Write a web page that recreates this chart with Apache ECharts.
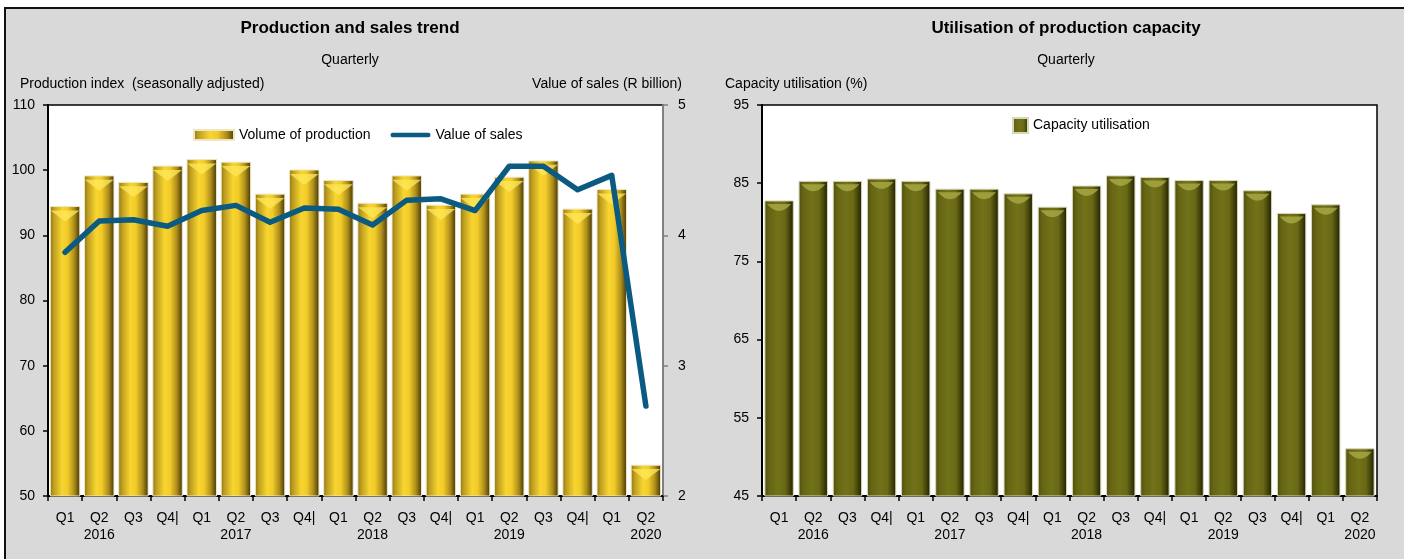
<!DOCTYPE html>
<html><head><meta charset="utf-8">
<script src="https://cdn.jsdelivr.net/npm/echarts@6/dist/echarts.min.js"></script>
<style>
html,body{margin:0;padding:0;background:#fff;}
#bg{position:absolute;left:4px;top:7px;width:1420px;height:560px;background:#d9d9d9;border-top:2px solid #111;border-left:2px solid #111;}
#c{position:absolute;left:0;top:0;width:1404px;height:559px;}
</style>
</head><body><div id="bg"></div><div id="c"></div>
<script>
// ---- data ----
const categories = ['Q1','Q2\n2016','Q3','Q4|','Q1','Q2\n2017','Q3','Q4|','Q1','Q2\n2018','Q3','Q4|','Q1','Q2\n2019','Q3','Q4|','Q1','Q2\n2020'];
const productionIndex = [94.5,99.2,98.2,100.7,101.7,101.3,96.4,100.1,98.5,95.0,99.2,94.7,96.4,99.0,101.5,94.1,97.1,54.8];
const salesValue = [3.87,4.11,4.12,4.07,4.19,4.23,4.10,4.21,4.20,4.08,4.27,4.28,4.19,4.53,4.53,4.35,4.46,2.69];
const capacityUtil = [82.8,85.3,85.3,85.6,85.3,84.3,84.3,83.7,82.0,84.7,86.0,85.8,85.4,85.4,84.1,81.2,82.3,51.1];
const prodAxis = {min:50, max:110, interval:10};
const salesAxis = {min:2, max:5, interval:1};
const capAxis = {min:45, max:95, interval:10};

const FONT = '"Liberation Sans", Arial, sans-serif';
const gold = new echarts.graphic.LinearGradient(0,0,1,0,[
  {offset:0,color:'#8a7215'},{offset:0.12,color:'#bc9c1f'},{offset:0.4,color:'#f8d530'},
  {offset:0.58,color:'#f2cb29'},{offset:0.8,color:'#ad8e1b'},{offset:0.93,color:'#66520d'},{offset:1,color:'#3a2e08'}]);
const olive = new echarts.graphic.LinearGradient(0,0,1,0,[
  {offset:0,color:'#4e4e0c'},{offset:0.15,color:'#646414'},{offset:0.45,color:'#727219'},
  {offset:0.7,color:'#696916'},{offset:0.88,color:'#3e3e0a'},{offset:1,color:'#1c1c02'}]);

const lbl = {fontFamily:FONT, fontSize:14, color:'#000'};
function xAxisCfg(gi){
  return {type:'category', gridIndex:gi, data:categories,
    axisLine:{lineStyle:{color:'#000',width:2}},
    axisTick:{show:true,length:5,lineStyle:{color:'#000',width:1.5}},
    axisLabel:Object.assign({margin:14,lineHeight:17,interval:0},lbl)};
}
function yAxisCfg(gi,r,pos,color){
  return {type:'value', gridIndex:gi, position:pos, min:r.min, max:r.max, interval:r.interval,
    splitLine:{show:false},
    axisLine:{show:true,lineStyle:{color:color,width:2}},
    axisTick:{show:true,length:5,lineStyle:{color:color,width:1.5}},
    axisLabel:Object.assign({margin:13},lbl)};
}
const chart = echarts.init(document.getElementById('c'), null, {renderer:'canvas'});
chart.setOption({
  backgroundColor:'transparent',
  animation:false,
  textStyle:{fontFamily:FONT},
  grid:[
    {left:48, top:105, width:615, height:391, show:true, backgroundColor:'#fff', borderColor:'#000', borderWidth:1.5},
    {left:762, top:105, width:615, height:391, show:true, backgroundColor:'#fff', borderColor:'#000', borderWidth:1.5}
  ],
  xAxis:[xAxisCfg(0), xAxisCfg(1)],
  yAxis:[
    yAxisCfg(0,prodAxis,'left','#000'),
    Object.assign(yAxisCfg(0,salesAxis,'right','#808080'),{axisLabel:Object.assign({margin:15},lbl)}),
    yAxisCfg(1,capAxis,'left','#000')
  ],
  legend:[
    {left:193, top:128, padding:0, itemWidth:40, itemHeight:10, itemGap:20, textStyle:lbl,
     data:[{name:'Volume of production', icon:'rect'},
           {name:'Value of sales', icon:'path://M2.5,0 L42.5,0 A2.5,2.5 0 0 1 42.5,5 L2.5,5 A2.5,2.5 0 0 1 2.5,0 Z'}]},
    {left:1012, top:117, padding:0, itemWidth:15, itemHeight:15, itemGap:4, textStyle:lbl,
     data:[{name:'Capacity utilisation', icon:'rect'}]}
  ],
  graphic:[
    {type:'text', x:350, y:28, style:{text:'Production and sales trend', font:'bold 17px '+FONT, fill:'#000', textAlign:'center', textVerticalAlign:'middle'}},
    {type:'text', x:350, y:60, style:{text:'Quarterly', font:'14px '+FONT, fill:'#000', textAlign:'center', textVerticalAlign:'middle'}},
    {type:'text', x:20, y:84, style:{text:'Production index  (seasonally adjusted)', font:'14px '+FONT, fill:'#000', textAlign:'left', textVerticalAlign:'middle'}},
    {type:'text', x:682, y:84, style:{text:'Value of sales (R billion)', font:'14px '+FONT, fill:'#000', textAlign:'right', textVerticalAlign:'middle'}},
    {type:'text', x:1066, y:28, style:{text:'Utilisation of production capacity', font:'bold 17px '+FONT, fill:'#000', textAlign:'center', textVerticalAlign:'middle'}},
    {type:'text', x:1066, y:60, style:{text:'Quarterly', font:'14px '+FONT, fill:'#000', textAlign:'center', textVerticalAlign:'middle'}},
    {type:'text', x:725, y:84, style:{text:'Capacity utilisation (%)', font:'14px '+FONT, fill:'#000', textAlign:'left', textVerticalAlign:'middle'}}
  ],
  series:[
    {name:'Volume of production', type:'bar', xAxisIndex:0, yAxisIndex:0, data:productionIndex,
     barCategoryGap:'11%', itemStyle:{color:gold, borderColor:'#efe6c4', borderWidth:1}, z:2},
    {name:'prodTop', type:'pictorialBar', xAxisIndex:0, yAxisIndex:0, data:productionIndex,
     symbol:'triangle', symbolRotate:180, symbolSize:[29,11], symbolPosition:'end', symbolOffset:[0,'40%'],
     itemStyle:{color:'rgba(255,232,90,0.75)'}, silent:true, z:3},
    {name:'Value of sales', type:'line', xAxisIndex:0, yAxisIndex:1, data:salesValue,
     symbol:'none', lineStyle:{color:'#0b5a82', width:5.5, cap:'round', join:'round'}, itemStyle:{color:'#0b5a82'}, z:5},
    {name:'Capacity utilisation', type:'bar', xAxisIndex:1, yAxisIndex:2, data:capacityUtil,
     barCategoryGap:'14%', itemStyle:{color:olive, borderColor:'#d8d8b8', borderWidth:1}, z:2},
    {name:'capTop', type:'pictorialBar', xAxisIndex:1, yAxisIndex:2, data:capacityUtil,
     symbol:'path://M0,0 L20,0 Q10,7 0,0 Z', symbolKeepAspect:false, symbolSize:[24,7], symbolPosition:'end', symbolOffset:[0,'50%'],
     itemStyle:{color:'rgba(170,170,70,0.8)'}, silent:true, z:3}
  ]
});
</script>
</body></html>
